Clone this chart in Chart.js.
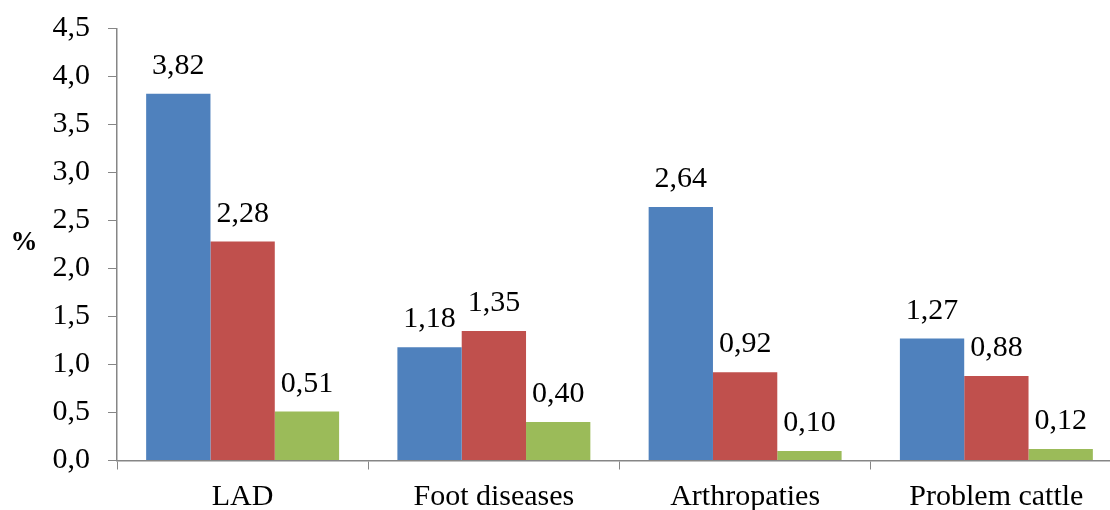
<!DOCTYPE html>
<html>
<head>
<meta charset="utf-8">
<script src="https://cdn.jsdelivr.net/npm/chart.js@4/dist/chart.umd.min.js"></script>
<style>
html,body{margin:0;padding:0;overflow:hidden;background:#fff;width:1110px;height:510px;}
canvas{display:block;}
</style>
</head>
<body>
<canvas id="c" width="1125" height="510"></canvas>
<script>
const categories = ["LAD", "Foot diseases", "Arthropaties", "Problem cattle"];
const series1 = [3.82, 1.18, 2.64, 1.27];
const series2 = [2.28, 1.35, 0.92, 0.88];
const series3 = [0.51, 0.40, 0.10, 0.12];
const yTicks = [0, 0.5, 1.0, 1.5, 2.0, 2.5, 3.0, 3.5, 4.0, 4.5];
const yTitle = "%";

const FONT = "'Liberation Serif', 'Times New Roman', serif";
const fmt = v => v.toFixed(2).replace('.', ',');

const labelPlugin = {
  id: 'labels',
  afterDatasetsDraw(chart) {
    const ctx = chart.ctx;
    ctx.save();
    ctx.font = "30px " + FONT;
    ctx.fillStyle = "#000";
    ctx.textAlign = "center";
    ctx.textBaseline = "alphabetic";
    chart.data.datasets.forEach((ds, i) => {
      const meta = chart.getDatasetMeta(i);
      meta.data.forEach((bar, j) => {
        ctx.fillText(fmt(ds.data[j]), bar.x, bar.y - 20);
      });
    });
    // y axis title, horizontal
    ctx.font = "bold 27px " + FONT;
    ctx.textBaseline = "middle";
    ctx.fillText(yTitle, 24, 243);
    ctx.restore();
  }
};

new Chart(document.getElementById('c'), {
  type: 'bar',
  data: {
    labels: categories,
    datasets: [
      { label: 'Series 1', data: series1, backgroundColor: '#4F81BD' },
      { label: 'Series 2', data: series2, backgroundColor: '#C0504D' },
      { label: 'Series 3', data: series3, backgroundColor: '#9BBB59' }
    ]
  },
  options: {
    responsive: false,
    animation: false,
    devicePixelRatio: 1,
    layout: { padding: { top: 28.5, right: 3, left: 0, bottom: 0 } },
    datasets: { bar: { categoryPercentage: 0.768, barPercentage: 1.0 } },
    plugins: { legend: { display: false }, tooltip: { enabled: false } },
    scales: {
      x: {
        grid: { display: true, drawOnChartArea: false, drawTicks: true, tickLength: 9, color: '#868686', offset: true },
        border: { display: true, color: '#868686', width: 1.5 },
        ticks: { color: '#000', font: { family: FONT, size: 30 }, padding: 10, autoSkip: false, maxRotation: 0 },
        afterFit(s) { s.height = 49.5; s.paddingLeft = 0; s.paddingRight = 0; }
      },
      y: {
        min: 0, max: 4.5,
        afterBuildTicks(s) { s.ticks = yTicks.map(v => ({ value: v })); },
        grid: { display: true, drawOnChartArea: false, drawTicks: true, tickLength: 9, color: '#868686' },
        border: { display: true, color: '#868686', width: 1.5 },
        ticks: { color: '#000', font: { family: FONT, size: 30 }, padding: 18,
                 callback: v => v.toFixed(1).replace('.', ',') },
        afterFit(s) { s.width = 117; s.paddingTop = 0; s.paddingBottom = 0; }
      }
    }
  },
  plugins: [labelPlugin]
});
</script>
</body>
</html>
